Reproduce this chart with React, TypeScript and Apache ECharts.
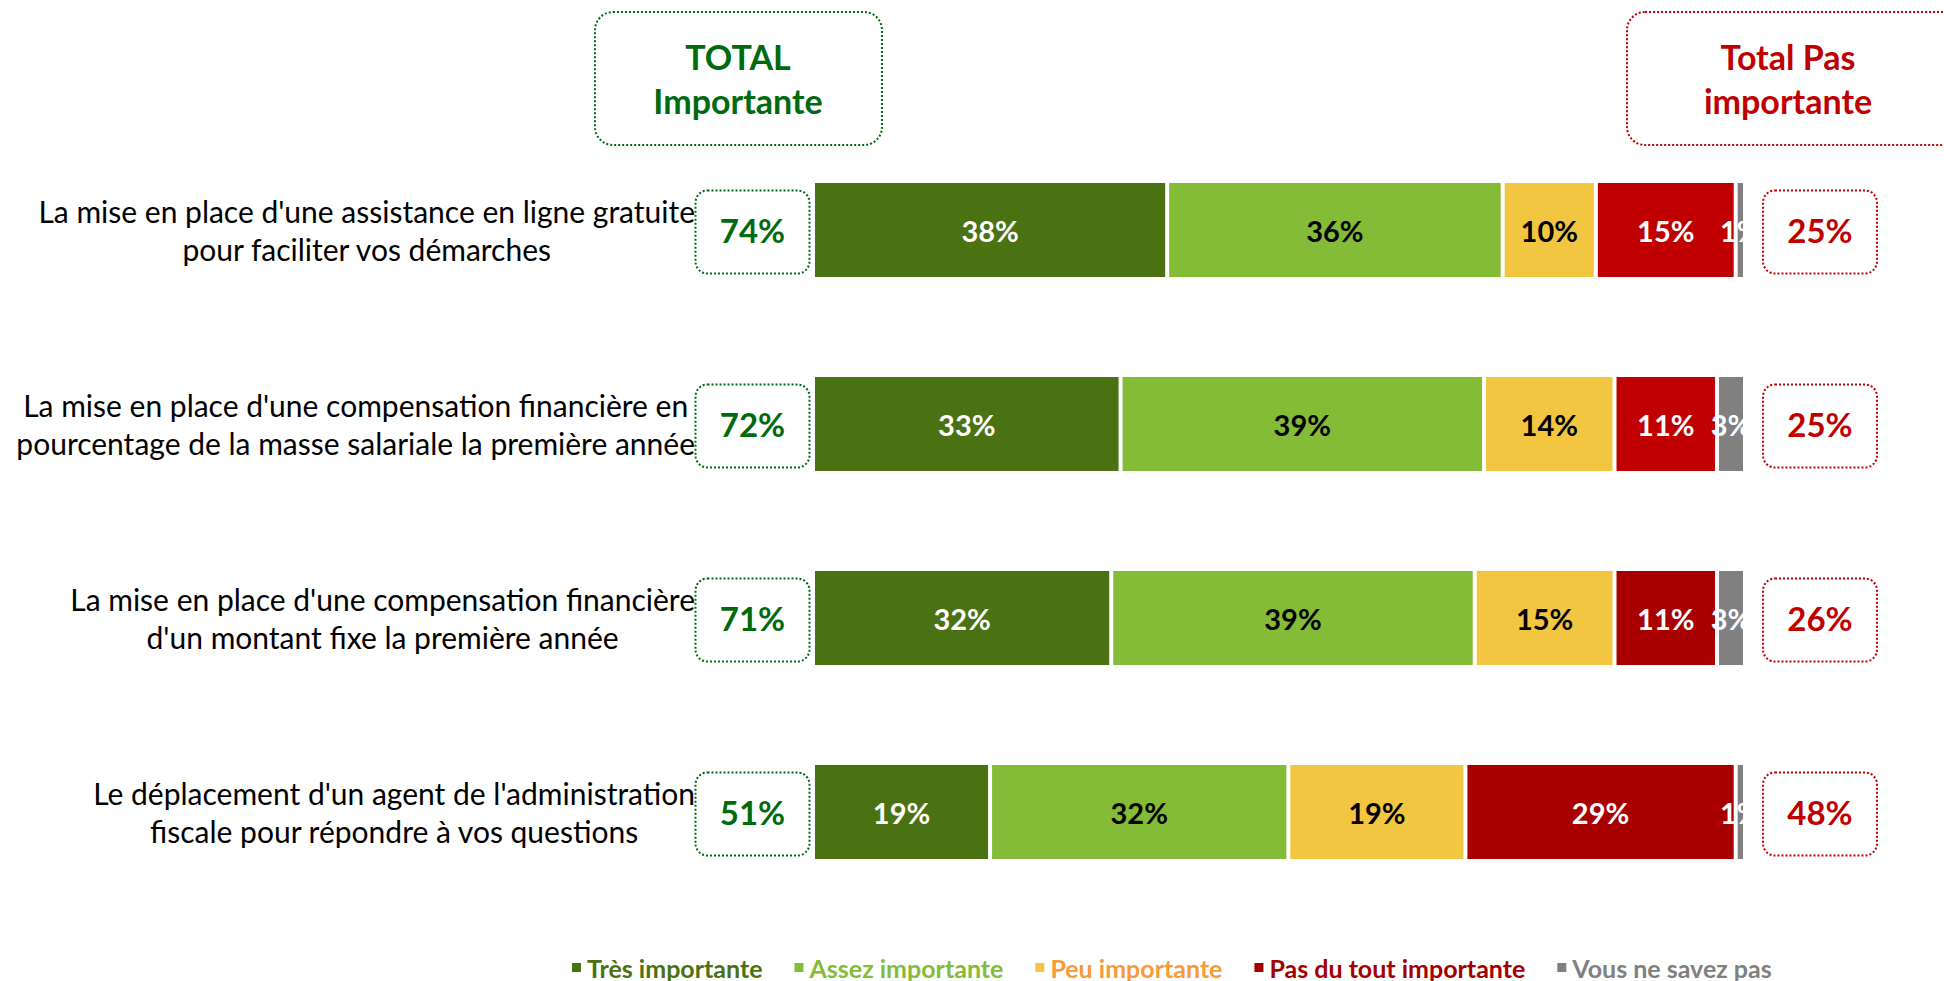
import React, { useEffect, useRef } from "react";
import * as echarts from "echarts";

const categories = [
  "La mise en place d'une assistance en ligne gratuite\npour faciliter vos démarches",
  "La mise en place d'une compensation financière en\npourcentage de la masse salariale la première année",
  "La mise en place d'une compensation financière\nd'un montant fixe la première année",
  "Le déplacement d'un agent de l'administration\nfiscale pour répondre à vos questions",
];
const seriesNames = [
  "Très importante",
  "Assez importante",
  "Peu importante",
  "Pas du tout importante",
  "Vous ne savez pas",
];
const tresImportante = [38, 33, 32, 19];
const assezImportante = [36, 39, 39, 32];
const peuImportante = [10, 14, 15, 19];
const pasDuTout = [15, 11, 11, 29];
const nspValues = [1, 3, 3, 1];
const totalImportante = [74, 72, 71, 51];
const totalPasImportante = [25, 25, 26, 48];

const seriesColors = ["#4A7212", "#84BB37", "#F2C641", "#A50000", "#808080"];
const pasDuToutRowColors = ["#C00000", "#C00000", "#A80000", "#A80000"];
const labelColors = ["#FFFFFF", "#000000", "#000000", "#FFFFFF", "#FFFFFF"];
const legendTextColors = ["#4A7212", "#84BB37", "#F79A3A", "#A50000", "#808080"];

const GREEN = "#006A0E";
const RED = "#C00000";
const FONT = "Lato, 'Open Sans', sans-serif";

export default function App() {
  const ref = useRef<HTMLDivElement>(null);

  useEffect(() => {
    if (!ref.current) return;
    const chart = echarts.init(ref.current, undefined, { renderer: "svg" });
    const values = [tresImportante, assezImportante, peuImportante, pasDuTout, nspValues];

    const barSeries = values.map((vals, si) => ({
      type: "bar",
      name: seriesNames[si],
      stack: "total",
      barWidth: 98,
      itemStyle: { color: seriesColors[si], borderColor: "#FFFFFF", borderWidth: 2 },
      label: {
        show: true,
        position: "inside",
        formatter: "{c}%",
        color: labelColors[si],
        fontFamily: FONT,
        fontWeight: "bold",
        fontSize: 29,
      },
      data: vals.map((v, i) =>
        si === 3 ? { value: v, itemStyle: { color: pasDuToutRowColors[i] } } : v
      ),
    }));

    const boxSeries = (totals: number[], color: string, side: "left" | "right") => ({
      type: "custom",
      name: side,
      silent: true,
      z: 10,
      data: totals.map((t, i) => [t, i]),
      renderItem: (params: any, api: any) => {
        const cs = params.coordSys;
        const y = api.coord([0, api.value(1)])[1] + 2;
        const w = 114;
        const h = 83;
        const x = side === "left" ? cs.x - 117.5 : cs.x + cs.width + 18;
        return {
          type: "group",
          children: [
            {
              type: "rect",
              shape: { x, y: y - h / 2, width: w, height: h, r: 12 },
              style: { fill: null, stroke: color, lineWidth: 2, lineDash: [2, 2] },
            },
            {
              type: "text",
              style: {
                text: api.value(0) + "%",
                x: x + w / 2,
                y: y - 2,
                align: "center",
                verticalAlign: "middle",
                fill: color,
                fontFamily: FONT,
                fontWeight: "bold",
                fontSize: 33,
              },
            },
          ],
        };
      },
    });

    chart.setOption({
      animation: false,
      grid: { left: 813, right: 199, top: 133, bottom: 72, containLabel: false },
      xAxis: { type: "value", min: 0, max: 100, show: false },
      yAxis: {
        type: "category",
        inverse: true,
        data: categories,
        axisLine: { show: false },
        axisTick: { show: false },
        axisLabel: {
          margin: 118,
          formatter: (v: string) =>
            v
              .split("\n")
              .map((l) => "{c|" + l + "}")
              .join("\n"),
          rich: {
            c: {
              align: "center",
              fontFamily: FONT,
              fontSize: 30,
              lineHeight: 38,
              color: "#000000",
            },
          },
        },
      },
      legend: {
        left: 565,
        top: 950,
        icon: "rect",
        itemWidth: 11,
        itemHeight: 11,
        itemGap: 30,
        textStyle: { fontFamily: FONT, fontWeight: "bold", fontSize: 25 },
        data: seriesNames.map((n, i) => ({ name: n, textStyle: { color: legendTextColors[i] } })),
      },
      graphic: [
        {
          type: "rect",
          shape: { x: 595, y: 12, width: 287, height: 133, r: 18 },
          style: { fill: null, stroke: GREEN, lineWidth: 2, lineDash: [2, 2] },
        },
        {
          type: "text",
          style: {
            text: "TOTAL\nImportante",
            x: 738,
            y: 78,
            align: "center",
            verticalAlign: "middle",
            fill: GREEN,
            fontFamily: FONT,
            fontWeight: "bold",
            fontSize: 34,
            lineHeight: 44,
          },
        },
        {
          type: "rect",
          shape: { x: 1627, y: 12, width: 336, height: 133, r: 18 },
          style: { fill: null, stroke: RED, lineWidth: 2, lineDash: [2, 2] },
        },
        {
          type: "text",
          style: {
            text: "Total Pas\nimportante",
            x: 1788,
            y: 78,
            align: "center",
            verticalAlign: "middle",
            fill: RED,
            fontFamily: FONT,
            fontWeight: "bold",
            fontSize: 34,
            lineHeight: 44,
          },
        },
      ],
      series: [
        ...barSeries,
        boxSeries(totalImportante, GREEN, "left"),
        boxSeries(totalPasImportante, RED, "right"),
      ],
    });

    return () => chart.dispose();
  }, []);

  return (
    <div
      ref={ref}
      style={{ position: "fixed", left: 0, top: 0, width: 1944, height: 981, background: "#FFFFFF" }}
    />
  );
}
